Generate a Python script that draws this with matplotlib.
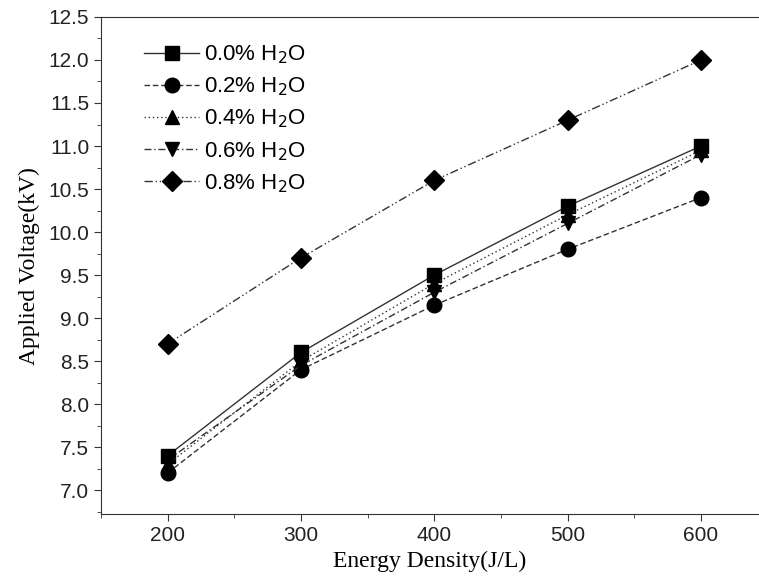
import matplotlib

matplotlib.use("Agg")
import matplotlib.pyplot as plt
from matplotlib.ticker import MultipleLocator

# 能量密度 (J/L)
energy = [200, 300, 400, 500, 600]

# 各含水量下的施加电压 (kV)
v_00 = [7.4, 8.6, 9.5, 10.3, 11.0]
v_02 = [7.2, 8.4, 9.15, 9.8, 10.4]
v_04 = [7.3, 8.5, 9.4, 10.2, 10.95]
v_06 = [7.35, 8.45, 9.3, 10.1, 10.9]
v_08 = [8.7, 9.7, 10.6, 11.3, 12.0]

labels = ['0.0% H$_2$O', '0.2% H$_2$O', '0.4% H$_2$O', '0.6% H$_2$O', '0.8% H$_2$O']

fig = plt.figure(figsize=(7.59, 5.85), dpi=100)
ax = fig.add_axes([0.133, 0.121, 0.867, 0.850])

series = [v_00, v_02, v_04, v_06, v_08]
markers = ['s', 'o', '^', 'v', 'D']
styles = ['-', (0, (4, 2)), (0, (1, 2)), (0, (5, 2, 1, 2)), (0, (6, 2, 1, 2, 1, 2))]
sizes = [10, 10.5, 10.5, 10.5, 10.5]

for y, m, ls, ms, lab in zip(series, markers, styles, sizes, labels):
    ax.plot(energy, y, linestyle=ls, color='#333333', linewidth=1.0,
            marker=m, markersize=ms, markerfacecolor='black',
            markeredgecolor='black', label=lab)

ax.set_xlim(150, 643.5)
ax.set_ylim(6.72, 12.5)
ax.xaxis.set_major_locator(MultipleLocator(100))
ax.xaxis.set_minor_locator(MultipleLocator(50))
ax.yaxis.set_major_locator(MultipleLocator(0.5))
ax.yaxis.set_minor_locator(MultipleLocator(0.25))
ax.set_xticks([200, 300, 400, 500, 600])

for lab in ax.get_xticklabels() + ax.get_yticklabels():
    lab.set_fontfamily('Liberation Sans')
ax.tick_params(axis='both', which='major', direction='out', length=5, labelsize=15,
               color='#333333', labelcolor='#222222')
ax.tick_params(axis='both', which='minor', direction='out', length=3, color='#333333')

ax.spines['right'].set_visible(False)
for s in ['left', 'bottom', 'top']:
    ax.spines[s].set_color('#333333')

ax.set_xlabel('Energy Density(J/L)', fontfamily='Liberation Serif', fontsize=17, labelpad=4)
ax.set_ylabel('Applied Voltage(kV)', fontfamily='Liberation Serif', fontsize=17, labelpad=6)

ax.legend(loc='upper left', frameon=False, prop={'family': 'Liberation Sans', 'size': 16},
          handlelength=2.45, labelspacing=0.43, handletextpad=0.25, borderpad=0,
          bbox_to_anchor=(0.049, 0.969))

fig.savefig('out.png', dpi=100)
